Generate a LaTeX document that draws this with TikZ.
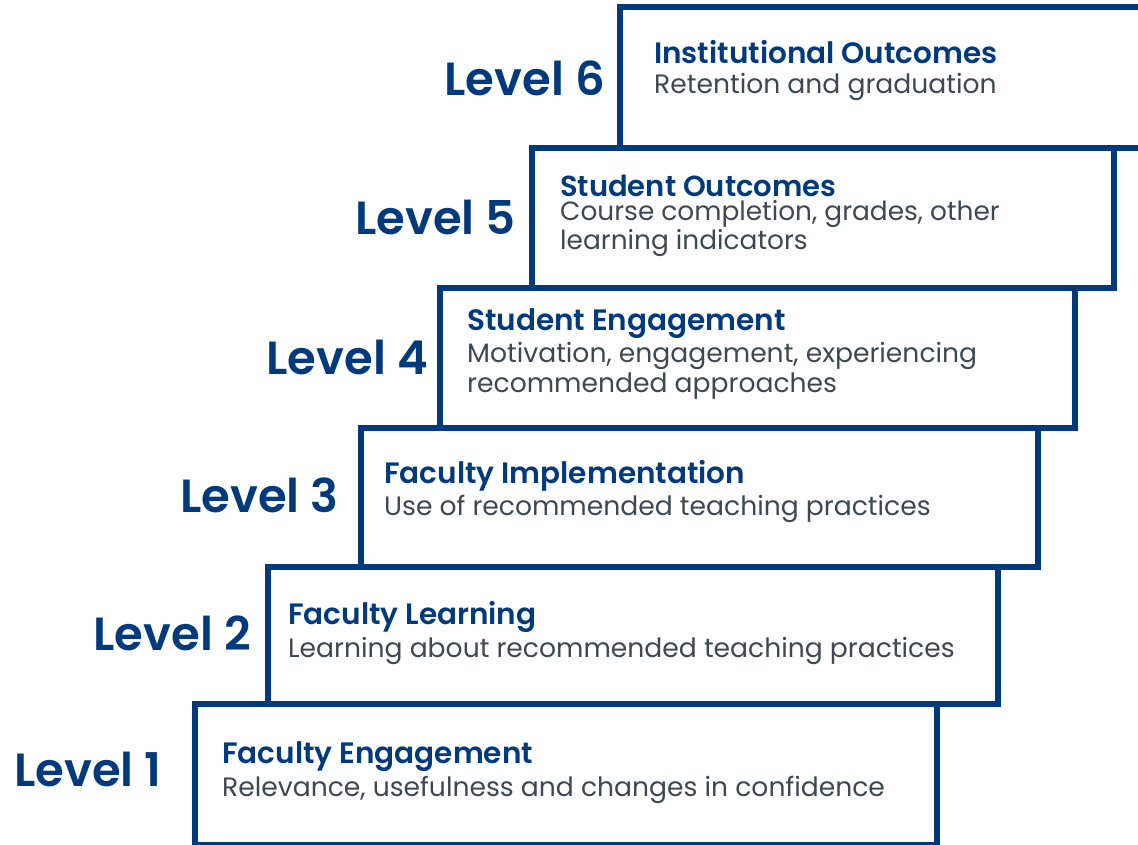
\documentclass[tikz,border=0pt]{standalone}
\usepackage{fontspec}
\setmainfont{Poppins}[BoldFont={Poppins SemiBold}]
\definecolor{stepblue}{HTML}{003A7D}
\definecolor{descgray}{HTML}{3F4752}

\begin{document}
\begin{tikzpicture}[x=1pt, y=-1pt,
  stepbox/.style={draw=stepblue, line width=6pt, inner sep=0pt, outer sep=0pt, anchor=north west},
  lvl/.style={text=stepblue, font=\fontsize{46.5}{46}\selectfont\bfseries, anchor=base east, inner sep=0pt},
  ttl/.style={text=stepblue, font=\fontsize{29.5}{32}\selectfont\bfseries, anchor=base west, inner sep=0pt},
  dsc/.style={text=descgray, font=\fontsize{26.6}{31}\selectfont, anchor=base west, align=left, inner sep=0pt}]
  \useasboundingbox (0,0) rectangle (1138,844);

  \node[stepbox, minimum width=530pt, minimum height=141pt] (box6) at (620,7) {};
  \node[stepbox, minimum width=582pt, minimum height=140pt] (box5) at (532,148) {};
  \node[stepbox, minimum width=635pt, minimum height=140pt] (box4) at (440,288) {};
  \node[stepbox, minimum width=677pt, minimum height=139pt] (box3) at (361,428) {};
  \node[stepbox, minimum width=730pt, minimum height=137pt] (box2) at (268,567) {};
  \node[stepbox, minimum width=742pt, minimum height=141pt] (box1) at (195,704) {};

  \node[lvl] (lvl6) at (605,95) {Level 6};
  \node[lvl] (lvl5) at (516,234) {Level 5};
  \node[lvl] (lvl4) at (428,374) {Level 4};
  \node[lvl] (lvl3) at (339,512) {Level 3};
  \node[lvl] (lvl2) at (251,650) {Level 2};
  \node[lvl] (lvl1) at (162,786) {Level 1};

  \node[ttl] (ttl6) at (654,63) {Institutional Outcomes};
  \node[dsc] (dsc6) at (654,93) {Retention and graduation};
  \node[ttl, font=\fontsize{29}{32}\selectfont\bfseries] (ttl5) at (560,196) {Student Outcomes};
  \node[dsc, font=\fontsize{26.4}{26.5}\selectfont] (dsc5) at (560,249) {Course completion, grades, other\\learning indicators};
  \node[ttl] (ttl4) at (467,330) {Student Engagement};
  \node[dsc, font=\fontsize{26.6}{29.5}\selectfont] (dsc4) at (467,392) {Motivation, engagement, experiencing\\recommended approaches};
  \node[ttl] (ttl3) at (384,483) {Faculty Implementation};
  \node[dsc] (dsc3) at (384,515) {Use of recommended teaching practices};
  \node[ttl] (ttl2) at (288,624) {Faculty Learning};
  \node[dsc] (dsc2) at (288,657) {Learning about recommended teaching practices};
  \node[ttl] (ttl1) at (222,763) {Faculty Engagement};
  \node[dsc] (dsc1) at (222,796) {Relevance, usefulness and changes in confidence};
\end{tikzpicture}
\end{document}
